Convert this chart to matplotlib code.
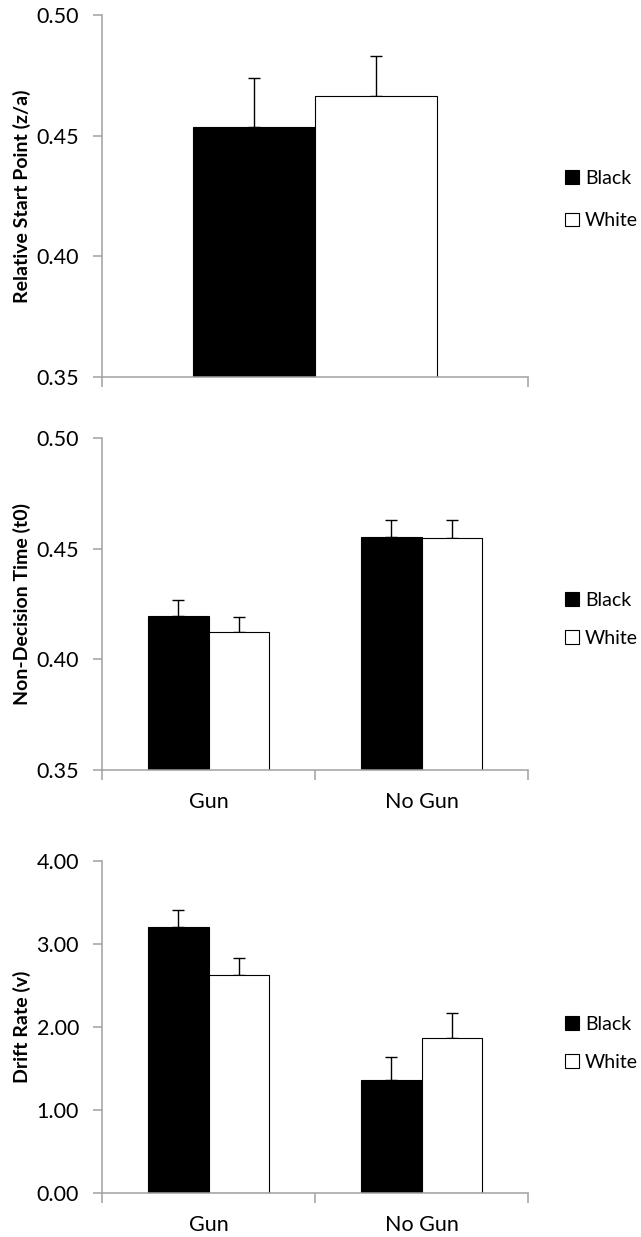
import matplotlib
matplotlib.use("Agg")
import matplotlib.pyplot as plt
from matplotlib.patches import Patch
import numpy as np

plt.rcParams['font.family'] = ['Lato', 'DejaVu Sans']

# ---- data ----
series = ["Black", "White"]

p1_categories = [""]
p1_black = [0.4537]
p1_white = [0.4665]
p1_black_err = [0.0200]
p1_white_err = [0.0165]

p2_categories = ["Gun", "No Gun"]
p2_black = [0.4196, 0.4552]
p2_white = [0.4125, 0.4550]
p2_black_err = [0.0074, 0.0078]
p2_white_err = [0.0065, 0.0080]

p3_categories = ["Gun", "No Gun"]
p3_black = [3.205, 1.353]
p3_white = [2.619, 1.859]
p3_black_err = [0.201, 0.282]
p3_white_err = [0.205, 0.310]

p1_yticks = [0.35, 0.40, 0.45, 0.50]
p2_yticks = [0.35, 0.40, 0.45, 0.50]
p3_yticks = [0.0, 1.0, 2.0, 3.0, 4.0]

ylabels = ["Relative Start Point (z/a)", "Non-Decision Time (t0)", "Drift Rate (v)"]

W, H = 641, 1237
fig = plt.figure(figsize=(W / 100, H / 100), dpi=100)

def rect(top, bottom, left=102.0, right=528.0):
    return [left / W, (H - bottom) / H, (right - left) / W, (bottom - top) / H]

spine_col = "#a0a0a0"
bw = 2 / 7

def panel(r, cats, black, white, berr, werr, yticks, ylab, fmt, leg_y, leg_sp, show_x):
    ax = fig.add_axes(r)
    x = np.arange(len(cats))
    ax.bar(x - bw / 2, black, bw, color="black", edgecolor="black", linewidth=0.8, zorder=2)
    ax.bar(x + bw / 2, white, bw, color="white", edgecolor="black", linewidth=0.8, zorder=2)
    ax.errorbar(x - bw / 2, black, yerr=[np.zeros(len(x)), berr], fmt="none",
                ecolor="black", elinewidth=1.0, capsize=4.3, capthick=1.0, zorder=1)
    ax.errorbar(x + bw / 2, white, yerr=[np.zeros(len(x)), werr], fmt="none",
                ecolor="black", elinewidth=1.0, capsize=4.3, capthick=1.0, zorder=1)
    ax.set_ylim(yticks[0], yticks[-1])
    ax.set_xlim(-0.5, len(cats) - 0.5)
    ax.set_yticks(yticks)
    ax.set_yticklabels([fmt.format(v) for v in yticks], fontsize=15.5)
    ax.set_xticks(x)
    ax.set_xticklabels(cats if show_x else [""] * len(cats), fontsize=15.5)
    ax.set_xticks(np.arange(len(cats) + 1) - 0.5, minor=True)
    ax.tick_params(axis="x", which="major", length=0, pad=16)
    ax.tick_params(axis="x", which="minor", length=7, width=1.1, color=spine_col, direction="out")
    ax.tick_params(axis="y", which="major", length=6.5, width=1.1, color=spine_col, direction="out", pad=10)
    for s in ["top", "right"]:
        ax.spines[s].set_visible(False)
    for s in ["left", "bottom"]:
        ax.spines[s].set_color(spine_col)
        ax.spines[s].set_linewidth(1.1)
    ax.set_ylabel(ylab, fontsize=14, fontweight="bold")
    ax.yaxis.set_label_coords(-0.166, 0.5)
    handles = [Patch(facecolor="black", edgecolor="black", linewidth=0.8),
               Patch(facecolor="white", edgecolor="black", linewidth=0.8)]
    ax.legend(handles, series, loc="center left", bbox_to_anchor=(1.087, leg_y),
              frameon=False, fontsize=14, handlelength=0.72, handleheight=0.72,
              handletextpad=0.3, borderpad=0, borderaxespad=0, labelspacing=leg_sp)
    return ax

panel(rect(15, 377), p1_categories, p1_black, p1_white, p1_black_err, p1_white_err,
      p1_yticks, ylabels[0], "{:.2f}", 0.49, 1.3, False)
panel(rect(438.3, 770), p2_categories, p2_black, p2_white, p2_black_err, p2_white_err,
      p2_yticks, ylabels[1], "{:.2f}", 0.454, 1.05, True)
panel(rect(860.7, 1192.7), p3_categories, p3_black, p3_white, p3_black_err, p3_white_err,
      p3_yticks, ylabels[2], "{:.2f}", 0.45, 1.05, True)

fig.savefig("out.png", dpi=100, facecolor="white")
